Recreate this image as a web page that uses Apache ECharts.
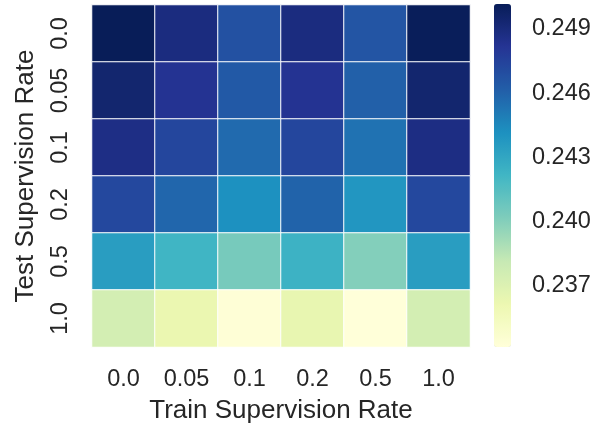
<!DOCTYPE html>
<html>
<head>
<meta charset="utf-8">
<script src="https://cdn.jsdelivr.net/npm/echarts@6/dist/echarts.min.js"></script>
<style>
html,body{margin:0;padding:0;background:#fff;}
#c{width:594px;height:423px;}
</style>
</head>
<body>
<div id="c"></div>
<script>
const trainRates = ['0.0', '0.05', '0.1', '0.2', '0.5', '1.0'];
const testRates = ['0.0', '0.05', '0.1', '0.2', '0.5', '1.0'];
// rows = test rate, columns = train rate
const row_00 = [0.25017, 0.24885, 0.24680, 0.24885, 0.24659, 0.25009];
const row_005 = [0.24942, 0.24824, 0.24640, 0.24824, 0.24608, 0.24942];
const row_01 = [0.24865, 0.24728, 0.24567, 0.24728, 0.24535, 0.24873];
const row_02 = [0.24720, 0.24583, 0.24415, 0.24595, 0.24387, 0.24720];
const row_05 = [0.24349, 0.24222, 0.24039, 0.24237, 0.24002, 0.24349];
const row_10 = [0.23750, 0.23620, 0.23427, 0.23637, 0.23411, 0.23750];
const colorbarTicks = [0.237, 0.240, 0.243, 0.246, 0.249];

const rows = [row_00, row_005, row_01, row_02, row_05, row_10];
const data = [];
rows.forEach((r, yi) => r.forEach((v, xi) => data.push([xi, yi, v])));
let vmin = Infinity, vmax = -Infinity;
data.forEach(d => { vmin = Math.min(vmin, d[2]); vmax = Math.max(vmax, d[2]); });

const FONT = "'Liberation Sans', Arial, sans-serif";
const TXT = '#262626';
const chart = echarts.init(document.getElementById('c'), null, {renderer: 'canvas'});
chart.setOption({
  animation: false,
  backgroundColor: '#fff',
  textStyle: {fontFamily: FONT},
  grid: [
    {left: 92, top: 5, width: 378, height: 342, containLabel: false, outerBoundsMode: 'none'},
    {left: 494, top: 4, width: 17, height: 343, containLabel: false, outerBoundsMode: 'none'}
  ],
  xAxis: [
    {
      type: 'category', data: trainRates, gridIndex: 0,
      axisLine: {show: false}, axisTick: {show: false}, splitLine: {show: false},
      axisLabel: {fontSize: 23.5, color: TXT, margin: 21, fontFamily: FONT, interval: 0},
      name: 'Train Supervision Rate', nameLocation: 'middle', nameGap: 51,
      nameTextStyle: {fontSize: 26, color: TXT, fontFamily: FONT}
    },
    {type: 'value', gridIndex: 1, show: false, min: 0, max: 1}
  ],
  yAxis: [
    {
      type: 'category', data: testRates, inverse: true, gridIndex: 0,
      axisLine: {show: false}, axisTick: {show: false}, splitLine: {show: false},
      axisLabel: {fontSize: 23.5, color: TXT, margin: 19, rotate: 90, fontFamily: FONT, interval: 0},
      name: 'Test Supervision Rate', nameLocation: 'middle', nameGap: 53, nameRotate: 90,
      nameTextStyle: {fontSize: 26, color: TXT, fontFamily: FONT}
    },
    {
      type: 'value', gridIndex: 1, position: 'right', min: vmin, max: vmax,
      axisLine: {show: false}, splitLine: {show: false},
      axisTick: {show: true, customValues: colorbarTicks, length: 11, lineStyle: {color: TXT, width: 2}},
      axisLabel: {show: true, customValues: colorbarTicks, fontSize: 23.5, color: TXT, margin: 21, fontFamily: FONT,
        formatter: v => Number(v).toFixed(3)}
    }
  ],
  visualMap: {
    type: 'continuous', seriesIndex: 0, min: vmin, max: vmax,
    calculable: false, left: 494, top: 4, itemWidth: 17, itemHeight: 343, padding: 0,
    orient: 'vertical', showLabel: false,
    inRange: {color: ['#ffffd9', '#edf8b1', '#c7e9b4', '#7fcdbb', '#41b6c4', '#1d91c0', '#225ea8', '#253494', '#081d58']}
  },
  series: [
    {
      type: 'heatmap', xAxisIndex: 0, yAxisIndex: 0, data: data,
      itemStyle: {borderColor: '#ffffff', borderWidth: 1},
      emphasis: {disabled: true}
    },
    {type: 'scatter', xAxisIndex: 1, yAxisIndex: 1, data: [], silent: true}
  ]
});
</script>
</body>
</html>
